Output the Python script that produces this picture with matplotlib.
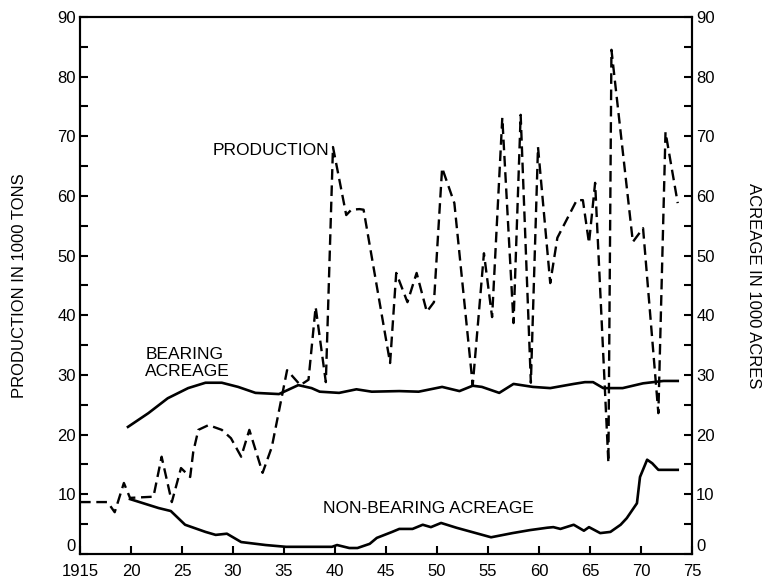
import matplotlib
matplotlib.use("Agg")
import matplotlib.pyplot as plt
from matplotlib.ticker import MultipleLocator

plt.rcParams['font.family'] = ['Liberation Sans', 'DejaVu Sans']

# production, 1000 tons (dashed line)
prod_years = [1915.0, 1917.7, 1918.4, 1919.3, 1919.9, 1922.2, 1923.0, 1924.0, 1924.9,
              1925.8, 1926.1, 1926.6, 1927.6, 1928.9, 1929.8, 1930.8, 1931.6, 1932.9,
              1933.8, 1935.3, 1936.6, 1937.4, 1938.1, 1939.1, 1939.8, 1941.1, 1941.6,
              1942.4, 1942.8, 1945.4, 1946.0, 1947.1, 1948.0, 1949.0, 1949.7, 1950.5,
              1951.7, 1953.5, 1954.6, 1955.4, 1956.4, 1957.5, 1958.2, 1959.2, 1959.9,
              1961.1, 1961.8, 1963.7, 1964.3, 1964.9, 1965.5, 1966.8, 1967.1, 1969.2,
              1970.2, 1971.7, 1972.4, 1973.6]
prod_vals = [8.7, 8.7, 7.0, 11.9, 9.4, 9.6, 16.3, 8.7, 14.4,
             12.9, 17.1, 20.8, 21.6, 20.8, 19.4, 16.3, 20.8, 13.6,
             17.9, 30.8, 28.3, 29.2, 41.4, 28.8, 68.2, 56.8, 57.7,
             57.8, 57.7, 32.0, 47.1, 42.2, 47.1, 40.6, 42.2, 64.7,
             58.8, 28.3, 50.4, 39.7, 73.1, 38.7, 73.6, 28.7, 68.2,
             45.4, 53.0, 59.3, 59.3, 52.1, 62.2, 15.3, 84.5, 52.3,
             54.6, 23.6, 70.7, 58.8]

# bearing acreage, 1000 acres
bear_years = [1919.7, 1921.7, 1923.6, 1925.6, 1927.3, 1928.9, 1930.5, 1932.2, 1934.5,
              1936.4, 1937.7, 1938.5, 1940.4, 1942.1, 1943.6, 1946.3, 1948.2, 1950.5,
              1952.2, 1953.5, 1954.4, 1956.1, 1957.5, 1959.4, 1961.1, 1963.4, 1964.5,
              1965.3, 1966.3, 1968.2, 1970.2, 1972.2, 1973.6]
bear_vals = [21.3, 23.6, 26.1, 27.8, 28.7, 28.7, 28.0, 27.0, 26.8,
             28.3, 27.8, 27.2, 27.0, 27.6, 27.2, 27.3, 27.2, 28.0,
             27.3, 28.2, 28.0, 27.0, 28.5, 28.0, 27.8, 28.5, 28.8,
             28.8, 27.8, 27.8, 28.6, 29.0, 29.0]

# non-bearing acreage, 1000 acres
nonb_years = [1919.9, 1922.7, 1923.9, 1925.3, 1927.3, 1928.3, 1929.4, 1930.8, 1933.2,
              1935.2, 1939.7, 1940.2, 1941.4, 1942.2, 1943.4, 1944.1, 1945.6, 1946.3,
              1947.6, 1948.6, 1949.4, 1950.4, 1951.9, 1955.3, 1957.4, 1959.1, 1960.8,
              1961.4, 1962.1, 1963.4, 1964.4, 1964.9, 1966.0, 1967.0, 1968.0, 1968.6,
              1969.6, 1969.9, 1970.6, 1971.1, 1971.7, 1973.6]
nonb_vals = [9.2, 7.7, 7.2, 4.9, 3.7, 3.2, 3.4, 2.0, 1.5,
             1.2, 1.2, 1.5, 1.0, 1.0, 1.7, 2.7, 3.7, 4.2,
             4.2, 4.9, 4.5, 5.2, 4.4, 2.8, 3.5, 4.0, 4.4,
             4.5, 4.2, 4.9, 3.9, 4.5, 3.5, 3.7, 4.9, 6.0,
             8.5, 12.9, 15.8, 15.2, 14.1, 14.1]

x_ticks = list(range(1915, 1976, 5))
x_labels = ['1915', '20', '25', '30', '35', '40', '45', '50', '55', '60', '65', '70', '75']
y_ticks = list(range(0, 91, 10))

fig = plt.figure(figsize=(7.65, 5.81), dpi=100)
ax = fig.add_axes([0.1046, 0.0465, 0.8, 0.9243])
ax2 = ax.twinx()

ax.plot(prod_years, prod_vals, color='black', lw=1.7, linestyle=(0, (4.5, 2.4)))
ax2.plot(bear_years, bear_vals, color='black', lw=1.9)
ax2.plot(nonb_years, nonb_vals, color='black', lw=1.9)

for a in (ax, ax2):
    a.set_ylim(0, 90)
    a.set_yticks(y_ticks)
    a.yaxis.set_minor_locator(MultipleLocator(5))
    for s in a.spines.values():
        s.set_linewidth(1.5)
ax.set_xlim(1915, 1975)
ax.set_xticks(x_ticks)
ax.set_xticklabels(x_labels)

ax.tick_params(axis='x', which='major', direction='in', length=6, width=1.5,
               labelsize=12, pad=7)
ax.tick_params(axis='y', which='major', direction='in', length=6, width=1.5,
               labelsize=12, pad=3)
ax.tick_params(axis='y', which='minor', direction='in', length=6, width=1.5)
ax2.tick_params(axis='y', which='major', direction='in', length=6, width=1.5,
                labelsize=12, pad=3)
ax2.tick_params(axis='y', which='minor', direction='in', length=6, width=1.5)

# the zero labels sit a little above the baseline
ax.get_yticklabels()[0].set_va('bottom')
ax2.get_yticklabels()[0].set_va('bottom')

ax.set_ylabel('PRODUCTION IN 1000 TONS', fontsize=12, labelpad=22)
ax2.set_ylabel('ACREAGE IN 1000 ACRES', fontsize=12, rotation=-90, labelpad=33)

ax.text(1939.4, 67.7, 'PRODUCTION', fontsize=12.5, ha='right', va='center')
ax.text(1921.4, 32.0, 'BEARING\nACREAGE', fontsize=12.5, ha='left', va='center',
        linespacing=1.2)
ax.text(1938.8, 7.7, 'NON-BEARING ACREAGE', fontsize=12.5, ha='left', va='center')

fig.savefig('out.png', dpi=100)
